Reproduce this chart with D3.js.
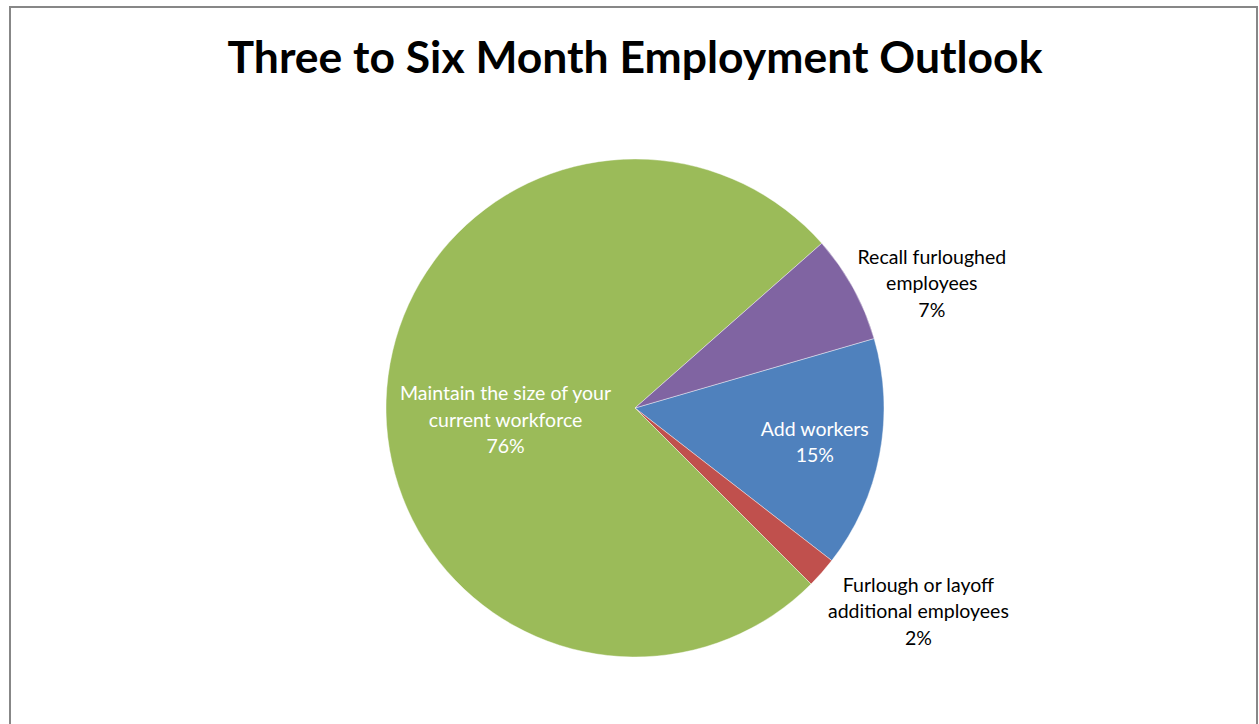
<!DOCTYPE html>
<html>
<head>
<meta charset="utf-8">
<script src="https://cdn.jsdelivr.net/npm/d3@7"></script>
<style>
  html, body { margin: 0; padding: 0; background: #fff; }
  svg { display: block; }
</style>
</head>
<body>
<svg id="chart" width="1259" height="724"></svg>
<script>
// Survey responses, in sheet order
const categories = [
  "Add workers",
  "Furlough or layoff additional employees",
  "Maintain the size of your current workforce",
  "Recall furloughed employees"
];
const values = [15, 2, 76, 7];
const labelLines = [
  ["Add workers"],
  ["Furlough or layoff", "additional employees"],
  ["Maintain the size of your", "current workforce"],
  ["Recall furloughed", "employees"]
];
const colors = ["#4F81BD", "#C0504D", "#9BBB59", "#8064A2"];
const title = "Three to Six Month Employment Outlook";

// Label placement: distance from the centre and angular nudge (degrees)
const labelDist = [183, 349, 130, 322];
const labelNudge = [0, -5.7, -7, 6];
const labelInside = [true, false, true, false];

const W = 1259, H = 724;
const cx = 635, cy = 408, R = 249;
const firstSliceAngle = 73.8; // degrees clockwise from 12 o'clock

const svg = d3.select("#chart");

// Chart area frame
svg.append("rect")
  .attr("x", 10).attr("y", 7)
  .attr("width", 1247).attr("height", 740)
  .attr("fill", "#fff")
  .attr("stroke", "#878787")
  .attr("stroke-width", 2);

// Title
const t = svg.append("text")
  .attr("x", 635).attr("y", 73)
  .attr("text-anchor", "middle")
  .attr("font-family", "Lato, 'Open Sans', sans-serif")
  .attr("font-weight", "bold")
  .attr("font-size", 44)
  .attr("fill", "#000")
  .text(title);
const tw = t.node().getComputedTextLength();
t.attr("font-size", 44 * 815 / tw);

const data = categories.map((c, i) => ({ name: c, value: values[i], i }));

const start = firstSliceAngle * Math.PI / 180;
const pie = d3.pie()
  .value(d => d.value)
  .sort(null)
  .startAngle(start)
  .endAngle(start + 2 * Math.PI);

const arc = d3.arc().innerRadius(0).outerRadius(R);

const g = svg.append("g").attr("transform", `translate(${cx},${cy})`);
const arcs = pie(data);

g.selectAll("path.slice")
  .data(arcs)
  .join("path")
  .attr("class", "slice")
  .attr("d", arc)
  .attr("fill", d => colors[d.data.i])
  .attr("stroke", "#ffffff")
  .attr("stroke-width", 0.6)
  .attr("stroke-opacity", 0.7);

// Data labels: category name followed by percentage
const fontSize = 19.5, lineH = 26.5;
arcs.forEach(d => {
  const i = d.data.i;
  const mid = (d.startAngle + d.endAngle) / 2 + labelNudge[i] * Math.PI / 180;
  const lx = labelDist[i] * Math.sin(mid);
  const ly = -labelDist[i] * Math.cos(mid);
  const lines = labelLines[i].concat([d.data.value + "%"]);
  const n = lines.length;
  const txt = g.append("text")
    .attr("text-anchor", "middle")
    .attr("font-family", "Lato, 'Open Sans', sans-serif")
    .attr("font-size", fontSize)
    .attr("fill", labelInside[i] ? "#ffffff" : "#000000");
  lines.forEach((s, k) => {
    txt.append("tspan")
      .attr("x", lx)
      .attr("y", ly + (k - (n - 1) / 2) * lineH)
      .attr("dy", "0.35em")
      .text(s);
  });
});
</script>
</body>
</html>
